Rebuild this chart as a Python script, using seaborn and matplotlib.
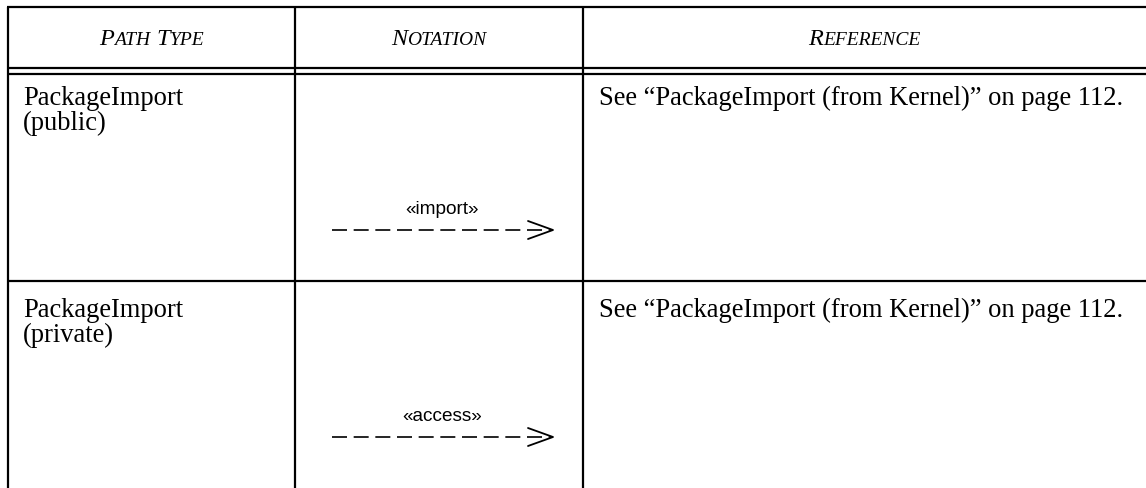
import matplotlib
matplotlib.use("Agg")
import matplotlib.pyplot as plt
import seaborn as sns

# table content
columns = ["Path Type", "Notation", "Reference"]
path_types = [["PackageImport", "(public)"], ["PackageImport", "(private)"]]
keywords = ["«import»", "«access»"]
references = ["See \u201cPackageImport (from Kernel)\u201d on page 112.",
              "See \u201cPackageImport (from Kernel)\u201d on page 112."]

W, H = 1146, 489
col_edges = [8, 295, 583, W]
text_baselines = [105, 317]
arrow_y = [231, 438]

sns.set_theme(style="white")
plt.rcParams['font.family'] = ['Liberation Serif', 'DejaVu Serif']
plt.rcParams['text.color'] = 'black'

fig = plt.figure(figsize=(W / 100, H / 100), dpi=100)
ax = fig.add_axes([0, 0, 1, 1])
ax.set_xlim(0, W)
ax.set_ylim(H, 0)
ax.axis("off")
renderer = fig.canvas.get_renderer()

# grid lines
lw = 1.6
ax.hlines([7.5, 69, 75, 282], col_edges[0] - 1, W, color="black", lw=lw)
ax.vlines(col_edges[:3], 7.5, H, color="black", lw=lw)


def small_caps(cx, y, label, size, ratio=0.8):
    pieces = []
    for i, word in enumerate(label.split(" ")):
        if i:
            pieces.append((None, size))
        pieces.append((word[0].upper(), size))
        pieces.append((word[1:].upper(), size * ratio))
    widths = []
    for s, fs in pieces:
        if s is None:
            widths.append(0.25 * fs * 100 / 72)
            continue
        t = ax.text(0, 0, s, fontsize=fs, style="italic")
        widths.append(t.get_window_extent(renderer).width)
        t.remove()
    x = cx - sum(widths) / 2
    for (s, fs), w in zip(pieces, widths):
        if s is not None:
            ax.text(x, y, s, fontsize=fs, style="italic", va="baseline", ha="left")
        x += w


for i, name in enumerate(columns):
    small_caps((col_edges[i] + col_edges[i + 1]) / 2, 45, name, 17.5)

body_size = 19.1
for r in range(len(path_types)):
    base = text_baselines[r]
    for k, line in enumerate(path_types[r]):
        ax.text(col_edges[0] + 15, base + k * 25, line, fontsize=body_size,
                va="baseline", ha="left")
    ax.text(col_edges[2] + 16, base, references[r], fontsize=body_size,
            va="baseline", ha="left")

    # notation: dashed dependency arrow with keyword
    ay = arrow_y[r]
    x0, x1 = 332, 553
    ax.plot([x0, x1], [ay, ay], color="black", lw=1.2,
            linestyle=(0, (9.0, 4.0)))
    ax.plot([x1 - 25, x1, x1 - 25], [ay - 9, ay, ay + 9], color="black", lw=1.3)
    ax.text((x0 + x1) / 2, ay - 17, keywords[r], fontsize=13.7,
            family="Liberation Sans", va="baseline", ha="center")

fig.savefig("out.png", dpi=100)
